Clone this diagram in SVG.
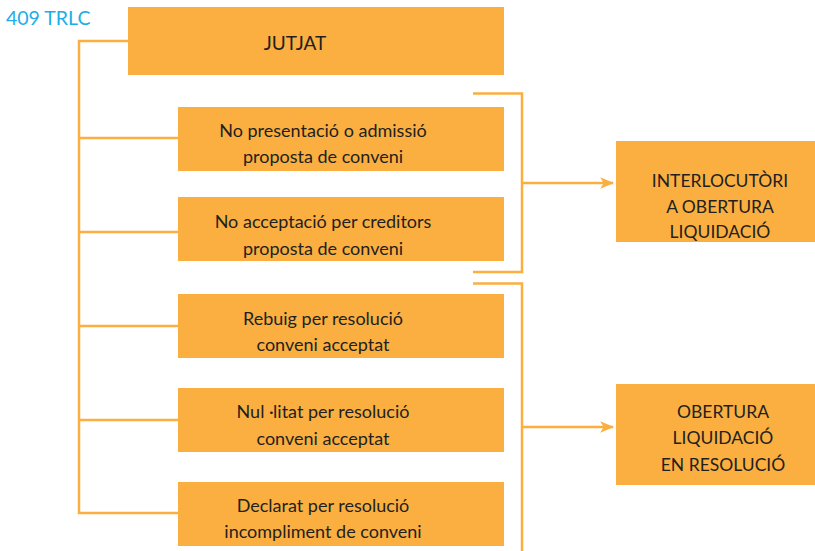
<svg xmlns="http://www.w3.org/2000/svg" width="815" height="551" viewBox="0 0 815 551">
<defs>
<style>
.box{fill:#FAAF40;}
.t{font-family:Lato,"Open Sans","DejaVu Sans",sans-serif;font-size:18px;fill:#231F20;text-anchor:middle;}
.r{font-size:17.5px;}
.ln{fill:none;stroke:#FAAF40;stroke-width:2.5;}
</style>
<marker id="arr" viewBox="0 0 12 10" refX="11" refY="5" markerWidth="14" markerHeight="12" markerUnits="userSpaceOnUse" orient="auto">
<path d="M0,0 L12,5 L0,10 L3,5 Z" fill="#FAAF40"/>
</marker>
</defs>
<rect width="815" height="551" fill="#FFFFFF"/>
<text x="6" y="25" style="font-family:Lato,'Open Sans',sans-serif;font-size:19.5px;fill:#1BAEE6;">409 TRLC</text>
<g id="connectors">
<path class="ln" d="M128,41 H79 V513 H178"/>
<path class="ln" d="M79,138 H178"/>
<path class="ln" d="M79,232 H178"/>
<path class="ln" d="M79,326 H178"/>
<path class="ln" d="M79,420 H178"/>
<path class="ln" d="M473,93.5 H522 V272 H473"/>
<path class="ln" d="M522,183 H613" marker-end="url(#arr)"/>
<path class="ln" d="M473,283.5 H522 V551"/>
<path class="ln" d="M522,427 H613" marker-end="url(#arr)"/>
</g>
<g id="jutjat"><rect class="box" x="128" y="7" width="376" height="68"/><text class="t" x="295" y="50" style="font-size:19px">JUTJAT</text></g>
<g id="no-presentacio"><rect class="box" x="178" y="107" width="326" height="64"/><text class="t" x="323" y="137">No presentació o admissió</text><text class="t" x="323" y="163">proposta de conveni</text></g>
<g id="no-acceptacio"><rect class="box" x="178" y="197" width="326" height="64"/><text class="t" x="323" y="228">No acceptació per creditors</text><text class="t" x="323" y="255">proposta de conveni</text></g>
<g id="rebuig"><rect class="box" x="178" y="294" width="326" height="64"/><text class="t" x="323" y="325">Rebuig per resolució</text><text class="t" x="323" y="351">conveni acceptat</text></g>
<g id="nullitat"><rect class="box" x="178" y="388" width="326" height="64"/><text class="t" x="323" y="418">Nul ·litat per resolució</text><text class="t" x="323" y="445">conveni acceptat</text></g>
<g id="declarat"><rect class="box" x="178" y="482" width="326" height="64"/><text class="t" x="323" y="512">Declarat per resolució</text><text class="t" x="323" y="538">incompliment de conveni</text></g>
<g id="interlocutori"><rect class="box" x="616" y="141" width="199" height="101"/><text class="t r" x="720" y="187">INTERLOCUTÒRI</text><text class="t r" x="720" y="213">A OBERTURA</text><text class="t r" x="720" y="238">LIQUIDACIÓ</text></g>
<g id="obertura"><rect class="box" x="616" y="384" width="199" height="101"/><text class="t r" x="723" y="418">OBERTURA</text><text class="t r" x="723" y="444">LIQUIDACIÓ</text><text class="t r" x="723" y="471">EN RESOLUCIÓ</text></g>
</svg>
